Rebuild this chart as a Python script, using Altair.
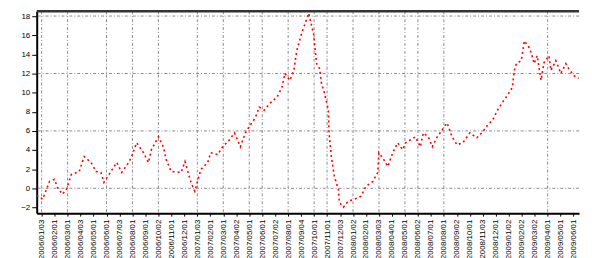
import json
import altair as alt
import pandas as pd

# x positions are expressed in label slots (0 = first tick label)
slots = [-0.38, 0.08, 0.61, 0.99, 1.22, 1.60, 1.91, 2.29, 2.90, 3.28, 3.81, 4.19, 4.57, 4.80,
         5.34, 5.79, 6.17, 6.71, 6.94, 7.32, 7.85, 8.23, 8.46, 9.00, 9.38, 9.60, 9.98, 10.75,
         11.05, 11.51, 11.81, 12.27, 12.80, 13.03, 13.57, 13.95, 14.48, 14.86, 15.32, 15.70,
         16.08, 16.46, 16.77, 17.15, 17.61, 18.14, 18.52, 18.75, 19.13, 19.44, 19.66, 20.05,
         20.43, 20.58, 20.96, 21.19, 21.42, 21.57, 21.80, 22.10, 22.15, 22.33, 22.56, 22.87,
         22.94, 23.25, 23.63, 24.09, 24.62, 25.00, 25.53, 25.91, 25.99, 26.37, 26.68, 27.06,
         27.44, 27.82, 28.05, 28.43, 28.81, 29.19, 29.42, 29.80, 30.11, 30.49, 30.87, 31.25,
         31.63, 32.01, 32.47, 33.00, 33.54, 33.99, 34.38, 34.76, 35.14, 35.52, 35.90, 36.28,
         36.43, 36.59, 36.97, 37.20, 37.58, 37.73, 37.96, 38.19, 38.49, 38.72, 39.10, 39.25,
         39.63, 40.02, 40.40, 40.62, 41.01, 41.39]
values = [-0.72, -1.14, 0.72, 0.93, 0.10, -0.62, -0.10, 1.45, 1.76, 3.31, 2.69, 1.76, 1.66, 0.62,
          1.76, 2.69, 1.66, 2.69, 3.31, 4.76, 3.72, 2.69, 4.03, 5.38, 4.34, 3.00, 1.76, 1.66,
          2.79, 0.62, -0.31, 1.97, 2.69, 3.72, 3.52, 4.34, 5.07, 5.79, 4.34, 5.79, 6.62, 7.34,
          8.48, 8.17, 8.90, 9.52, 10.55, 12.00, 11.28, 12.31, 14.38, 16.24, 17.69, 18.30, 16.14,
          13.03, 12.52, 10.97, 9.93, 8.17, 5.79, 3.31, 1.24, -0.10, -1.45, -1.97, -1.34, -1.14,
          -0.83, 0.21, 0.72, 1.66, 3.72, 3.00, 2.28, 3.72, 4.76, 4.03, 4.76, 5.07, 5.38, 4.34,
          5.79, 5.38, 4.34, 5.38, 6.10, 6.83, 5.38, 4.55, 4.76, 5.79, 5.28, 5.90, 6.62, 7.14,
          8.17, 9.00, 9.72, 10.55, 12.31, 13.03, 13.34, 15.41, 14.69, 14.17, 13.03, 13.86, 11.28,
          13.14, 13.86, 12.31, 13.34, 12.00, 13.03, 12.52, 11.79, 11.48]

x_labels = ["2006/01/03", "2006/02/01", "2006/03/01", "2006/04/03", "2006/05/01", "2006/06/01",
            "2006/07/03", "2006/08/01", "2006/09/01", "2006/10/02", "2006/11/01", "2006/12/01",
            "2007/01/03", "2007/02/01", "2007/03/01", "2007/04/02", "2007/05/01", "2007/06/01",
            "2007/07/02", "2007/08/01", "2007/09/04", "2007/10/01", "2007/11/01", "2007/12/03",
            "2008/01/02", "2008/02/01", "2008/03/03", "2008/04/01", "2008/05/01", "2008/06/02",
            "2008/07/01", "2008/08/01", "2008/09/02", "2008/10/01", "2008/11/03", "2008/12/01",
            "2009/01/02", "2009/02/02", "2009/03/02", "2009/04/01", "2009/05/01", "2009/06/01"]
x_grid_slots = [0, 2, 5, 7, 9, 12, 14, 16, 17, 19, 21, 22, 24, 26, 28, 29, 31, 39]
y_ticks = [-2, 0, 2, 4, 6, 8, 10, 12, 14, 16, 18]
y_grid = [0, 6, 12, 18]

X_DOMAIN = [-0.38, 41.42]
Y_DOMAIN = [-2.6, 18.5]
W, H = 548, 204

df = pd.DataFrame({"slot": slots, "value": values})
label_expr = json.dumps(x_labels) + "[datum.value]"

xscale = alt.Scale(domain=X_DOMAIN, nice=False, zero=False)
yscale = alt.Scale(domain=Y_DOMAIN, nice=False, zero=False)

xaxis = alt.Axis(values=list(range(len(x_labels))), labelExpr=label_expr,
                 labelAngle=270, labelAlign="right", labelBaseline="middle",
                 grid=False, title=None, tickSize=3, labelPadding=3,
                 labelFontSize=8, labelColor="#000000", labelOverlap=False,
                 labelSeparation=0, labelBound=False, labelFlush=False,
                 domainColor="#000000", domainWidth=2, tickColor="#000000",
                 labelFont="Liberation Sans")
yaxis = alt.Axis(values=y_ticks, grid=False, title=None, tickSize=5,
                 labelPadding=2, labelFontSize=8, labelColor="#000000",
                 labelOverlap=False, labelFlush=False,
                 domainColor="#000000", domainWidth=2, tickColor="#000000",
                 labelFont="Liberation Sans")

grid_dash = [3, 2, 1, 2]

vgrid = alt.Chart(pd.DataFrame({"g": x_grid_slots})).mark_rule(
    color="#8a8a8a", strokeWidth=1, strokeDash=grid_dash
).encode(x=alt.X("g:Q", scale=xscale, axis=xaxis, title=None))

hgrid = alt.Chart(pd.DataFrame({"g": y_grid})).mark_rule(
    color="#8a8a8a", strokeWidth=1, strokeDash=grid_dash
).encode(y=alt.Y("g:Q", scale=yscale, axis=yaxis, title=None))

line = alt.Chart(df).mark_line(
    color="#ff0000", strokeWidth=1.6, strokeDash=[2, 3], clip=True
).encode(
    x=alt.X("slot:Q", scale=xscale, axis=xaxis, title=None),
    y=alt.Y("value:Q", scale=yscale, axis=yaxis, title=None),
)

top = alt.Chart(pd.DataFrame({"a": [0]})).mark_rule(color="#333333", strokeWidth=2.5).encode(
    x=alt.value(0), x2=alt.value(W), y=alt.value(0)
)

chart = alt.layer(hgrid, vgrid, line, top).properties(
    width=W, height=H,
    autosize=alt.AutoSizeParams(type="none"),
    padding={"left": 29, "top": 2, "right": 5, "bottom": 45},
).configure_view(stroke=None).configure_axis(labelOverlap=False)

chart.save("out.html", embed_options={"renderer": "svg", "actions": False})
